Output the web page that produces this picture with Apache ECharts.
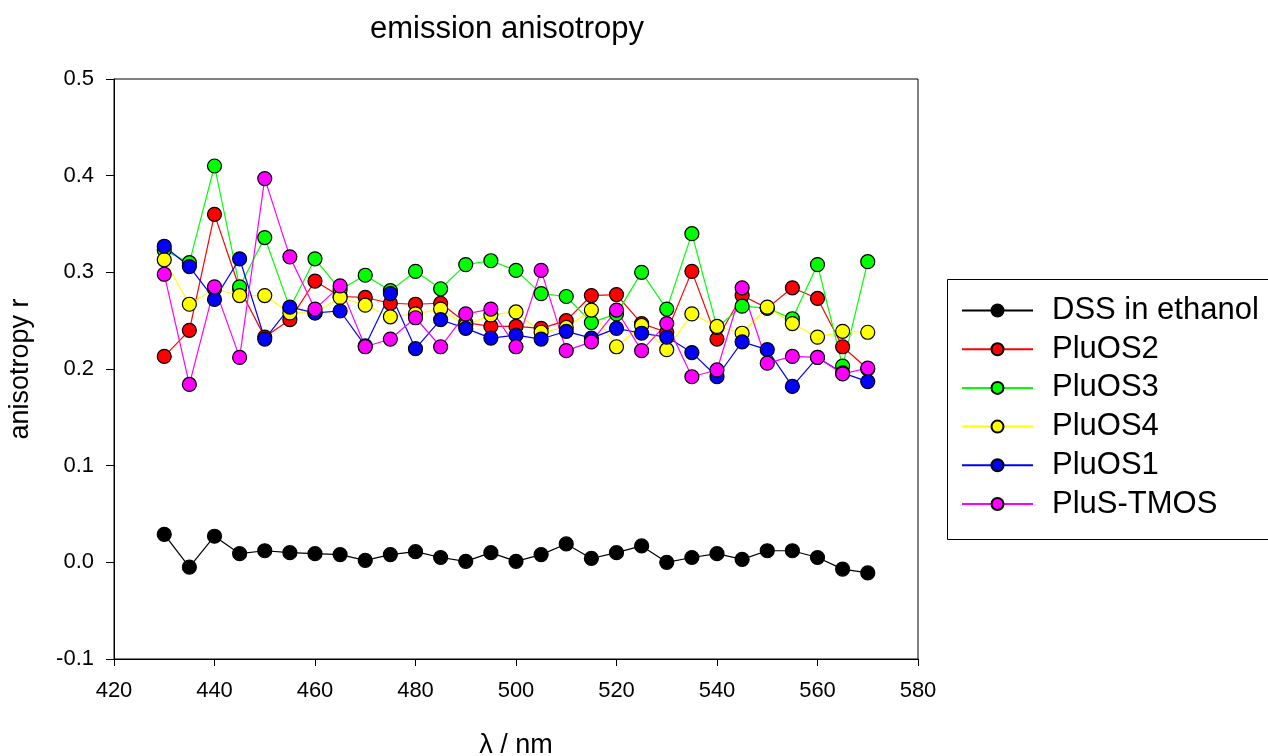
<!DOCTYPE html>
<html>
<head>
<meta charset="utf-8">
<script src="https://cdn.jsdelivr.net/npm/echarts@6/dist/echarts.min.js"></script>
<style>html,body{margin:0;padding:0;background:#fff;}#c{width:1268px;height:756px;}</style>
</head>
<body>
<div id="c"></div>
<script>
const wavelengths = [430,435,440,445,450,455,460,465,470,475,480,485,490,495,500,505,510,515,520,525,530,535,540,545,550,555,560,565,570];
const dssEthanol = [0.029,-0.005,0.027,0.009,0.012,0.010,0.009,0.008,0.002,0.008,0.011,0.005,0.001,0.010,0.001,0.008,0.019,0.004,0.010,0.017,0.000,0.005,0.009,0.003,0.012,0.012,0.005,-0.007,-0.011];
const pluOS2 = [0.213,0.240,0.360,0.283,0.233,0.251,0.291,0.275,0.274,0.268,0.267,0.268,0.248,0.244,0.244,0.242,0.250,0.276,0.277,0.247,0.238,0.301,0.231,0.276,0.263,0.284,0.273,0.223,0.200];
const pluOS3 = [0.323,0.310,0.410,0.285,0.336,0.263,0.314,0.282,0.297,0.281,0.301,0.283,0.308,0.312,0.302,0.278,0.275,0.248,0.257,0.300,0.262,0.340,0.243,0.265,0.263,0.252,0.308,0.203,0.311];
const pluOS4 = [0.313,0.267,0.283,0.276,0.276,0.258,0.258,0.274,0.266,0.254,0.257,0.262,0.245,0.256,0.259,0.238,0.243,0.261,0.223,0.245,0.220,0.257,0.244,0.237,0.264,0.247,0.233,0.239,0.238];
const pluOS1 = [0.327,0.306,0.272,0.314,0.231,0.264,0.258,0.260,0.224,0.278,0.221,0.251,0.242,0.232,0.235,0.231,0.239,0.232,0.242,0.237,0.233,0.217,0.192,0.228,0.220,0.182,0.212,0.196,0.187];
const plusTMOS = [0.298,0.184,0.285,0.212,0.397,0.316,0.262,0.286,0.223,0.231,0.253,0.223,0.257,0.262,0.223,0.302,0.219,0.228,0.261,0.219,0.247,0.192,0.199,0.284,0.206,0.213,0.212,0.195,0.201];

const seriesNames = ['DSS in ethanol','PluOS2','PluOS3','PluOS4','PluOS1','PluS-TMOS'];
const seriesData = [dssEthanol, pluOS2, pluOS3, pluOS4, pluOS1, plusTMOS];
const seriesColors = ['#000000','#ff0000','#00ff00','#ffff00','#0000ff','#ff00ff'];

const font = 'Liberation Sans, Arial, sans-serif';
const chart = echarts.init(document.getElementById('c'));
chart.setOption({
  animation: false,
  backgroundColor: '#fff',
  title: {
    text: 'emission anisotropy',
    left: 507, top: 14, textAlign: 'center', padding: 0,
    textStyle: {fontFamily: font, fontSize: 31, fontWeight: 'normal', color: '#000'}
  },
  grid: {left: 114, right: 350, top: 79, bottom: 97, show: true, borderColor: '#000', borderWidth: 1, backgroundColor: 'transparent', outerBoundsMode: 'none', containLabel: false},
  xAxis: {
    type: 'value', min: 420, max: 580, interval: 20,
    name: 'λ / nm', nameLocation: 'middle', nameGap: 73,
    nameTextStyle: {fontFamily: font, fontSize: 27, color: '#000'},
    axisLine: {show: true, onZero: false, lineStyle: {color: '#000', width: 1}},
    axisTick: {show: true, length: 7, inside: false, lineStyle: {color: '#000'}},
    axisLabel: {fontFamily: font, fontSize: 22, color: '#000', margin: 21},
    splitLine: {show: false}
  },
  yAxis: {
    type: 'value', min: -0.1, max: 0.5, interval: 0.1,
    name: 'anisotropy r', nameLocation: 'middle', nameGap: 80,
    nameTextStyle: {fontFamily: font, fontSize: 27, color: '#000'},
    axisLine: {show: true, onZero: false, lineStyle: {color: '#000', width: 1}},
    axisTick: {show: true, length: 8, inside: false, lineStyle: {color: '#000'}},
    axisLabel: {fontFamily: font, fontSize: 22, color: '#000', margin: 20, formatter: v => (Math.abs(v) < 1e-9 ? 0 : v).toFixed(1)},
    splitLine: {show: false}
  },
  legend: {
    orient: 'vertical', left: 945, top: 277,
    padding: [18, 16, 18, 16],
    itemWidth: 71, itemHeight: 15, itemGap: 7.7,
    textStyle: {fontFamily: font, fontSize: 31, lineHeight: 30, color: '#000', padding: [0,0,0,14]},
    data: seriesNames
  },
  graphic: [{
    type: 'rect', left: 945, top: 277, z: 100, silent: true,
    shape: {width: 322, height: 260},
    style: {fill: 'none', stroke: '#000', lineWidth: 1}
  }],
  series: seriesNames.map((n, i) => ({
    name: n, type: 'line',
    data: wavelengths.map((w, j) => [w, seriesData[i][j]]),
    symbol: 'circle', symbolSize: 14,
    lineStyle: {color: seriesColors[i], width: 1.2},
    itemStyle: {color: seriesColors[i], borderColor: '#000', borderWidth: 1.2},
    emphasis: {disabled: true}
  }))
});
</script>
</body>
</html>
